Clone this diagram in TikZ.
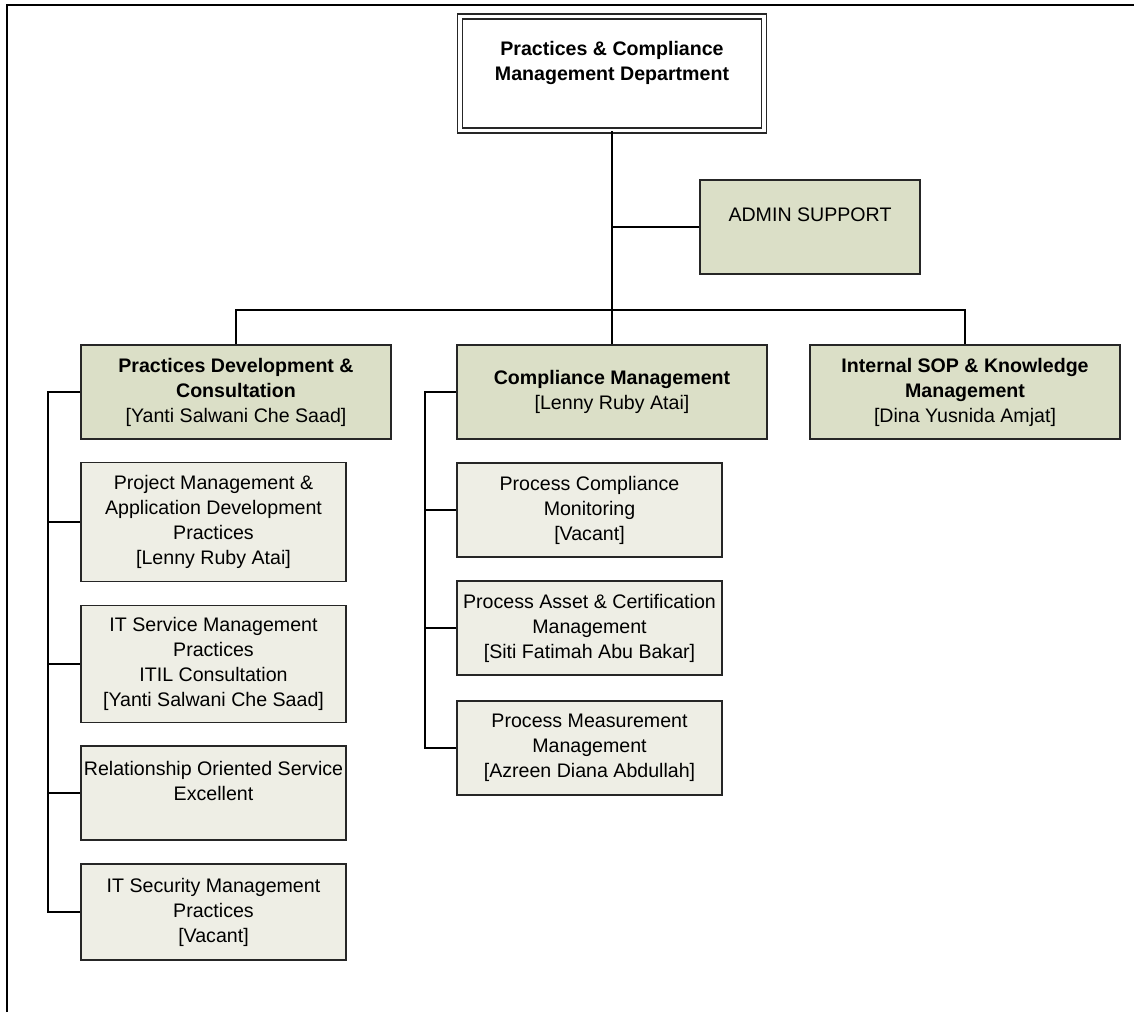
\documentclass[tikz,border=0pt]{standalone}
\usepackage{fontspec}
\setmainfont{Liberation Sans}
\definecolor{headfill}{RGB}{219,223,199}
\definecolor{unitfill}{RGB}{238,238,229}
\begin{document}
\begin{tikzpicture}[x=0.5pt,y=-0.5pt,
	every node/.style={font=\fontsize{9.8}{12.5}\selectfont,align=center,inner sep=1pt},
	dept/.style={draw=black!85,line width=0.7pt,double,double distance=1.8pt,minimum width=152pt,minimum height=57pt},
	head/.style={draw=black!85,line width=0.8pt,fill=headfill,minimum width=155pt,minimum height=47pt},
	unit/.style={draw=black!85,line width=0.8pt,fill=unitfill,minimum width=132.5pt,minimum height=47pt},
	link/.style={line width=1pt}]
\useasboundingbox (0,0) rectangle (1134,1012);
\draw[line width=1.4pt] (7,1012) -- (7,5) -- (1134,5);

% department
\node[dept] (dept) at (612,73.5) {\textbf{Practices \& Compliance}\\\textbf{Management Department}\\~};
\node[head,minimum width=110pt] (admin) at (810,227) {ADMIN SUPPORT\\~};

% sections
\node[head] (pdc) at (236,392) {\textbf{Practices Development \&}\\\textbf{Consultation}\\{[}Yanti Salwani Che Saad]};
\node[head] (cm) at (612,392) {\textbf{Compliance Management}\\{[}Lenny Ruby Atai]};
\node[head] (isop) at (965,392) {\textbf{Internal SOP \& Knowledge}\\\textbf{Management}\\{[}Dina Yusnida Amjat]};

% units
\node[unit,minimum height=59.5pt] (pm) at (213.5,522) {Project Management \&\\Application Development\\Practices\\{[}Lenny Ruby Atai]};
\node[unit,minimum height=58.5pt] (itsm) at (213.5,664) {IT Service Management\\Practices\\ITIL Consultation\\{[}Yanti Salwani Che Saad]};
\node[unit] (ros) at (213.5,793) {Relationship Oriented Service\\Excellent\\~};
\node[unit,minimum height=48pt] (itsec) at (213.5,912) {IT Security Management\\Practices\\{[}Vacant]};
\node[unit] (pcm) at (589.5,510) {Process Compliance\\Monitoring\\{[}Vacant]};
\node[unit] (pac) at (589.5,628) {Process Asset \& Certification\\Management\\{[}Siti Fatimah Abu Bakar]};
\node[unit] (pmm) at (589.5,748) {Process Measurement\\Management\\{[}Azreen Diana Abdullah]};

% trunk
\coordinate (bus) at (612,310);
\draw[link] (dept.south) -- (cm.north);
\draw[link] (admin.west) -- (admin.west -| dept.south);
\draw[link] (pdc.north) |- (bus) -| (isop.north);

% Practices Development
\coordinate (prail) at (48,392);
\draw[link] (pdc.west) -- (prail) |- (itsec.west);
\foreach \n in {pm,itsm,ros} \draw[link] (prail |- \n.west) -- (\n.west);

% Compliance
\coordinate (crail) at (425,392);
\draw[link] (cm.west) -- (crail) |- (pmm.west);
\foreach \n in {pcm,pac} \draw[link] (crail |- \n.west) -- (\n.west);

\end{tikzpicture}
\end{document}
